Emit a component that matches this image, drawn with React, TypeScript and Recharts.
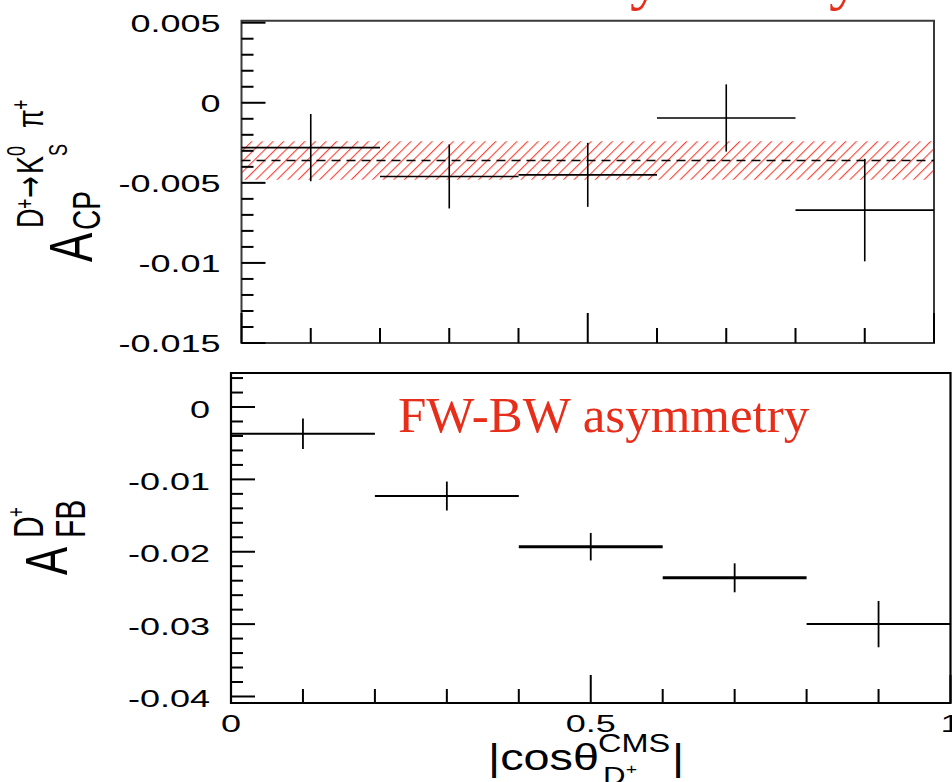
import { ErrorBar, ReferenceArea, ReferenceLine, Scatter, ScatterChart, XAxis, YAxis } from 'recharts'

// |cos θ| bins: centres and half-widths
const binCenters = [0.1, 0.3, 0.5, 0.7, 0.9]
const binHalfWidths = [0.1, 0.1, 0.1, 0.1, 0.1]

// upper panel: A_CP per bin, with the fitted mean and its error band
const acpValues = [-0.0028, -0.0046, -0.0045, -0.00095, -0.0067]
const acpErrors = [0.0021, 0.002, 0.002, 0.0021, 0.0032]
const acpMean = -0.0036
const acpBand = [-0.0048, -0.0024]

// lower panel: A_FB per bin
const afbValues = [-0.0037, -0.0123, -0.0193, -0.0236, -0.03]
const afbErrors = [0.0021, 0.002, 0.0019, 0.002, 0.0032]

const acpDomain: [number, number] = [-0.015, 0.005125]
const acpTicks = [-0.015, -0.01, -0.005, 0, 0.005]
const acpTickLabels = ['-0.015', '-0.01', '-0.005', '0', '0.005']
const afbDomain: [number, number] = [-0.0409, 0.0047]
const afbTicks = [-0.04, -0.03, -0.02, -0.01, 0]
const afbTickLabels = ['-0.04', '-0.03', '-0.02', '-0.01', '0']
const xTicks = [0, 0.5, 1]
const xTickLabels = ['0', '0.5', '1']

const SANS = '"Liberation Sans", Arial, Helvetica, sans-serif'
const SERIF = '"Liberation Serif", "Times New Roman", serif'
const RED = '#e62e1a'
const STRETCH = 1.5 // the original figure was stretched sideways
const THICK_BINS = new Set([2, 3])

const steps = (from: number, to: number, step: number) => {
  const n = Math.round((to - from) / step)
  return Array.from({ length: n + 1 }, (_, i) => Math.round((from + i * step) * 1e6) / 1e6)
}

const toPoints = (values: number[], errors: number[]) =>
  binCenters.map((x, i) => ({ x, y: values[i], ex: binHalfWidths[i], ey: errors[i] }))

const acpPoints = toPoints(acpValues, acpErrors)
const afbPoints = toPoints(afbValues, afbErrors)
const afbThin = afbPoints.filter((_, i) => !THICK_BINS.has(i))
const afbThick = afbPoints.filter((_, i) => THICK_BINS.has(i))

const match = (list: number[], v: number) => list.findIndex((m) => Math.abs(m - v) < 1e-7)

const NoDot = () => <g />

function yTick(majors: number[], labels: string[], dy: number) {
  return function YTick(props: any) {
    const { x, y, payload } = props
    const i = match(majors, payload.value)
    return (
      <g>
        <line x1={x} x2={x + (i >= 0 ? 24 : 12)} y1={y} y2={y} stroke="#000" strokeWidth={2} />
        {i >= 0 && (
          <text
            transform={`translate(${x - 21} ${y + dy}) scale(${STRETCH} 1)`}
            textAnchor="end"
            fontFamily={SANS}
            fontSize={24}
            fill="#000"
          >
            {labels[i]}
          </text>
        )}
      </g>
    )
  }
}

function xTick(minorLen: number, majorLen: number, withLabels: boolean) {
  return function XTick(props: any) {
    const { x, y, payload } = props
    const i = match(xTicks, payload.value)
    return (
      <g>
        <line x1={x} x2={x} y1={y} y2={y - (i >= 0 ? majorLen : minorLen)} stroke="#000" strokeWidth={2} />
        {withLabels && i >= 0 && (
          <text
            transform={`translate(${x} ${y + 28.5}) scale(${STRETCH} 1)`}
            textAnchor="middle"
            fontFamily={SANS}
            fontSize={24}
            fill="#000"
          >
            {xTickLabels[i]}
          </text>
        )}
      </g>
    )
  }
}

const AcpTitle = () => (
  <g transform="translate(92 262) rotate(-90) scale(1 1.4)" fontFamily={SANS} fill="#000">
    <text x={0} y={0} fontSize={44}>A</text>
    <text x={32} y={5.7} fontSize={28}>CP</text>
    <text x={34} y={-35} fontSize={27}>D</text>
    <text x={53} y={-42} fontSize={18}>+</text>
    <text x={64} y={-36} fontSize={26} fontFamily="DejaVu Sans">→</text>
    <text x={88} y={-35} fontSize={27}>K</text>
    <text x={106} y={-48} fontSize={18}>0</text>
    <text x={106} y={-18} fontSize={18}>S</text>
    <text x={134} y={-35} fontSize={27}>π</text>
    <text x={152} y={-45} fontSize={18}>+</text>
  </g>
)

const CutTitle = () => (
  <text x={861} y={-3} textAnchor="end" fontFamily={SERIF} fontSize={64} fill={RED}>
    CP asymmetry
  </text>
)

const AfbTitle = () => (
  <g transform="translate(67 215) rotate(-90) scale(1 1.4)" fontFamily={SANS} fill="#000">
    <text x={0} y={0} fontSize={42}>A</text>
    <text x={37} y={12.9} fontSize={30}>FB</text>
    <text x={37} y={-17} fontSize={30}>D</text>
    <text x={58} y={-31} fontSize={17}>+</text>
  </g>
)

const XTitle = () => (
  <g>
    <text x={398} y={71.7} fontFamily={SERIF} fontSize={51} fill={RED}>
      FW-BW asymmetry
    </text>
    <g transform="translate(488 410) scale(1.3 1)" fontFamily={SANS} fill="#000">
      <text x={0} y={0} fontSize={36}>|cosθ</text>
      <text x={84.6} y={-18} fontSize={25}>CMS</text>
      <text x={88.5} y={14} fontSize={24}>D</text>
      <text x={106} y={4} fontSize={15}>+</text>
      <text x={141.5} y={0} fontSize={36}>|</text>
    </g>
  </g>
)

export default function App() {
  return (
    <div style={{ position: 'absolute', left: 0, top: 0, width: 952, height: 782, background: '#fff' }}>
      <div style={{ position: 'absolute', left: 0, top: 0 }}>
        <ScatterChart width={952} height={360} margin={{ top: 20.7, right: 18, bottom: 0, left: 0 }}>
          <defs>
            <pattern id="acpHatch" width={7.5} height={7.5} patternUnits="userSpaceOnUse" patternTransform="rotate(45)">
              <line x1={0} y1={0} x2={0} y2={7.5} stroke="#f5483a" strokeWidth={2.3} />
            </pattern>
          </defs>
          <XAxis
            type="number"
            dataKey="x"
            domain={[0, 1]}
            ticks={steps(0, 1, 0.1)}
            interval={0}
            height={17}
            tickSize={0}
            tickMargin={0}
            tickLine={false}
            axisLine={false}
            allowDataOverflow
            tick={xTick(15, 30, false)}
            label={CutTitle}
          />
          <YAxis
            type="number"
            dataKey="y"
            domain={acpDomain}
            ticks={steps(-0.015, 0.005, 0.001)}
            interval={0}
            width={241.5}
            tickSize={0}
            tickMargin={0}
            tickLine={false}
            axisLine={false}
            allowDataOverflow
            tick={yTick(acpTicks, acpTickLabels, 9)}
            label={AcpTitle}
          />
          <ReferenceArea x1={0} x2={1} y1={acpBand[0]} y2={acpBand[1]} fill="url(#acpHatch)" fillOpacity={1} stroke="none" />
          <ReferenceLine y={acpMean} stroke="#000" strokeWidth={1.5} strokeDasharray="9 6" />
          <Scatter data={acpPoints} shape={NoDot} isAnimationActive={false}>
            <ErrorBar dataKey="ex" direction="x" width={0} stroke="#000" strokeWidth={1.6} isAnimationActive={false} />
            <ErrorBar dataKey="ey" direction="y" width={0} stroke="#000" strokeWidth={1.6} isAnimationActive={false} />
          </Scatter>
          <ReferenceArea x1={0} x2={1} y1={acpDomain[0]} y2={acpDomain[1]} fill="none" stroke="#3a3a3a" strokeWidth={2} />
        </ScatterChart>
      </div>

      <div style={{ position: 'absolute', left: 0, top: 360 }}>
        <ScatterChart width={952} height={422} margin={{ top: 13, right: 1.5, bottom: 0, left: 0 }}>
          <XAxis
            type="number"
            dataKey="x"
            domain={[0, 1]}
            ticks={steps(0, 1, 0.1)}
            interval={0}
            height={79}
            tickSize={0}
            tickMargin={0}
            tickLine={false}
            axisLine={false}
            allowDataOverflow
            tick={xTick(14, 28, true)}
            label={XTitle}
          />
          <YAxis
            type="number"
            dataKey="y"
            domain={afbDomain}
            ticks={steps(-0.04, 0.004, 0.002)}
            interval={0}
            width={231}
            tickSize={0}
            tickMargin={0}
            tickLine={false}
            axisLine={false}
            allowDataOverflow
            tick={yTick(afbTicks, afbTickLabels, 10.5)}
            label={AfbTitle}
          />
          <Scatter data={afbThin} shape={NoDot} isAnimationActive={false}>
            <ErrorBar dataKey="ex" direction="x" width={0} stroke="#000" strokeWidth={2} isAnimationActive={false} />
            <ErrorBar dataKey="ey" direction="y" width={0} stroke="#000" strokeWidth={1.8} isAnimationActive={false} />
          </Scatter>
          <Scatter data={afbThick} shape={NoDot} isAnimationActive={false}>
            <ErrorBar dataKey="ex" direction="x" width={0} stroke="#000" strokeWidth={3} isAnimationActive={false} />
            <ErrorBar dataKey="ey" direction="y" width={0} stroke="#000" strokeWidth={1.8} isAnimationActive={false} />
          </Scatter>
          <ReferenceArea x1={0} x2={1} y1={afbDomain[0]} y2={afbDomain[1]} fill="none" stroke="#000" strokeWidth={2.2} />
        </ScatterChart>
      </div>
    </div>
  )
}
